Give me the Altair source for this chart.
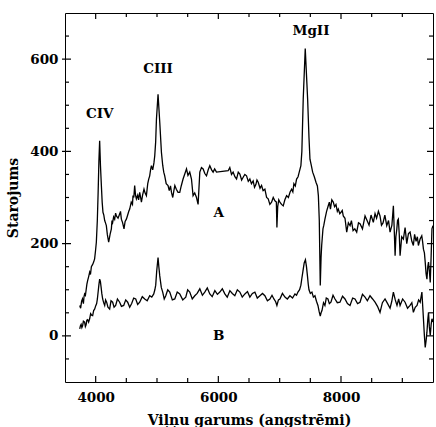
import altair as alt
import pandas as pd

# Spectrum A (upper curve): wavelength (angstrom) and flux
wl_A = [3740, 3755, 3771, 3785, 3800, 3810, 3820, 3833, 3845, 3857,
        3869, 3885, 3902, 3915, 3930, 3951, 3967, 3983, 3998, 4011,
        4027, 4040, 4053, 4065, 4078, 4093, 4106, 4119, 4133, 4147,
        4160, 4174, 4190, 4212, 4235, 4256, 4266, 4277, 4293, 4310,
        4325, 4338, 4365, 4391, 4405, 4419, 4440, 4462, 4480, 4501,
        4522, 4540, 4555, 4580, 4600, 4609, 4622, 4636, 4650, 4664,
        4685, 4700, 4718, 4733, 4746, 4765, 4788, 4805, 4827, 4849,
        4865, 4881, 4895, 4909, 4930, 4950, 4963, 4978, 4991, 5017,
        5045, 5072, 5093, 5110, 5126, 5150, 5180, 5200, 5220, 5236,
        5257, 5275, 5291, 5315, 5343, 5371, 5395, 5425, 5450, 5481,
        5505, 5534, 5562, 5588, 5615, 5644, 5670, 5698, 5725, 5752,
        5780, 5807, 5835, 5861, 5890, 5915, 5940, 5970, 6160, 6187,
        6215, 6241, 6270, 6297, 6325, 6351, 6380, 6405, 6432, 6460,
        6488, 6514, 6540, 6568, 6590, 6612, 6630, 6650, 6680, 6705,
        6730, 6759, 6787, 6813, 6840, 6868, 6895, 6922, 6946, 6955,
        6968, 6985, 7004, 7030, 7058, 7085, 7113, 7142, 7170, 7195,
        7215, 7232, 7255, 7276, 7300, 7319, 7346, 7362, 7384, 7417,
        7456, 7478, 7494, 7515, 7538, 7565, 7592, 7615, 7631, 7646,
        7662, 7675, 7685, 7706, 7720, 7738, 7765, 7792, 7810, 7828,
        7850, 7874, 7895, 7918, 7940, 7956, 7980, 8000, 8020, 8037,
        8065, 8093, 8120, 8148, 8170, 8197, 8225, 8256, 8285, 8310,
        8350, 8392, 8425, 8457, 8490, 8527, 8555, 8580, 8610, 8636,
        8660, 8685, 8715, 8746, 8775, 8800, 8830, 8854, 8868, 8882,
        8895, 8909, 8922, 8935, 8950, 8963, 8990, 9017, 9045, 9072,
        9100, 9126, 9155, 9180, 9200, 9224, 9245, 9262, 9290, 9317,
        9330, 9344, 9360, 9373, 9387, 9401, 9415, 9427, 9441, 9455,
        9470, 9483, 9500]
flux_A = [66, 60, 75, 80, 70, 85, 91, 88, 100, 112,
          120, 128, 138, 133, 150, 155, 160, 167, 185, 203,
          250, 310, 380, 423, 370, 326, 290, 268, 262, 250,
          245, 239, 220, 203, 220, 232, 250, 246, 258, 253,
          266, 260, 255, 264, 270, 253, 245, 232, 248, 253,
          262, 270, 275, 290, 285, 304, 300, 326, 305, 297,
          305, 295, 311, 300, 290, 305, 318, 310, 304, 330,
          340, 347, 360, 369, 360, 375, 390, 420, 470, 524,
          463, 398, 370, 355, 347, 330, 326, 315, 325, 311,
          300, 315, 326, 318, 311, 311, 325, 340, 350, 362,
          348, 355, 340, 304, 310, 300, 285, 355, 365, 362,
          352, 347, 360, 369, 360, 355, 362, 355, 358, 365,
          350, 355, 345, 340, 355, 351, 338, 344, 350, 347,
          335, 340, 330, 336, 322, 328, 338, 333, 320, 326,
          315, 318, 300, 297, 285, 290, 300, 293, 290, 235,
          280, 295, 290, 285, 282, 295, 304, 300, 312, 318,
          312, 330, 325, 340, 345, 355, 369, 400, 513, 623,
          513, 430, 383, 370, 355, 345, 333, 325, 304, 250,
          109, 170, 196, 232, 240, 253, 270, 282, 290, 275,
          295, 290, 280, 285, 270, 275, 265, 268, 272, 260,
          255, 225, 245, 239, 250, 228, 232, 225, 245, 243,
          232, 260, 250, 240, 262, 246, 265, 255, 270, 260,
          240, 245, 262, 239, 250, 225, 240, 282, 230, 174,
          215, 230, 250, 253, 220, 174, 215, 210, 235, 200,
          222, 225, 205, 196, 220, 205, 215, 196, 210, 217,
          205, 188, 180, 160, 135, 123, 150, 160, 140, 116,
          175, 232, 239]

# Spectrum B (lower curve)
wl_B = [3740, 3752, 3763, 3775, 3787, 3800, 3820, 3832, 3844, 3856,
        3869, 3885, 3902, 3918, 3934, 3951, 3967, 3983, 4000, 4016,
        4028, 4040, 4052, 4065, 4077, 4089, 4100, 4114, 4130, 4147,
        4162, 4179, 4200, 4228, 4250, 4277, 4300, 4326, 4355, 4391,
        4420, 4457, 4490, 4522, 4555, 4587, 4620, 4653, 4685, 4718,
        4760, 4800, 4840, 4881, 4915, 4947, 4965, 4979, 4995, 5017,
        5030, 5045, 5070, 5093, 5118, 5143, 5175, 5208, 5250, 5290,
        5330, 5371, 5420, 5469, 5500, 5534, 5575, 5616, 5655, 5698,
        5740, 5779, 5820, 5861, 5900, 5943, 5985, 6024, 6065, 6106,
        6145, 6188, 6228, 6269, 6310, 6351, 6390, 6433, 6475, 6514,
        6555, 6596, 6635, 6678, 6720, 6759, 6800, 6841, 6875, 6906,
        6935, 6955, 6980, 7004, 7045, 7086, 7125, 7167, 7210, 7249,
        7275, 7298, 7325, 7346, 7362, 7379, 7400, 7420, 7437, 7453,
        7466, 7478, 7500, 7526, 7550, 7575, 7600, 7624, 7645, 7662,
        7675, 7690, 7715, 7738, 7760, 7787, 7810, 7836, 7870, 7902,
        7940, 7983, 8025, 8065, 8105, 8147, 8190, 8228, 8270, 8310,
        8350, 8392, 8430, 8473, 8515, 8555, 8595, 8636, 8675, 8718,
        8760, 8800, 8828, 8854, 8885, 8913, 8940, 8963, 9005, 9045,
        9085, 9126, 9155, 9180, 9210, 9240, 9265, 9291, 9319, 9344,
        9360, 9373, 9388, 9401, 9415, 9427, 9440, 9455, 9470, 9483,
        9500]
flux_B = [15, 22, 25, 18, 22, 32, 30, 20, 24, 34,
          35, 30, 37, 48, 45, 44, 55, 58, 65, 70,
          80, 95, 110, 123, 118, 105, 92, 80, 72, 66,
          78, 73, 62, 58, 76, 73, 62, 66, 80, 73,
          64, 66, 78, 73, 62, 70, 82, 80, 68, 73,
          85, 80, 76, 87, 84, 91, 100, 110, 140, 170,
          150, 130, 105, 95, 80, 87, 100, 95, 78, 80,
          95, 91, 78, 84, 100, 95, 80, 87, 92, 102,
          88, 95, 104, 91, 85, 98, 90, 95, 102, 91,
          84, 98, 92, 87, 100, 95, 84, 91, 96, 84,
          92, 95, 82, 87, 92, 87, 76, 80, 88, 80,
          74, 66, 78, 80, 92, 84, 80, 87, 82, 91,
          88, 95, 100, 110, 125, 140, 158, 165, 150, 130,
          112, 100, 92, 95, 84, 87, 75, 66, 52, 43,
          50, 55, 72, 66, 82, 80, 70, 73, 88, 80,
          72, 73, 86, 80, 70, 66, 82, 80, 70, 73,
          90, 84, 76, 87, 80, 73, 64, 51, 72, 80,
          70, 60, 75, 95, 78, 66, 80, 66, 80, 73,
          60, 66, 72, 51, 62, 66, 78, 73, 95, 37,
          0, -25, -10, 8, 35, 51, 20, 1, 25, 37,
          30]

# Tick positions
x_major = [4000, 6000, 8000]
x_minor = [4500, 5000, 5500, 6500, 7000, 7500, 8500, 9000]
y_major = [0, 200, 400, 600]
y_minor = [-50, 50, 100, 150, 250, 300, 350, 450, 500, 550, 650]

# Annotations
ann_text = ["CIV", "CIII", "MgII", "A", "B"]
ann_x = [4065, 5017, 7510, 6008, 6008]
ann_y = [481, 578, 661, 266, 0]

W, H = 368, 369
FONT = "DejaVu Serif"
xs = alt.Scale(domain=[3500, 9500], nice=False, zero=False)
ys = alt.Scale(domain=[-100, 700], nice=False, zero=False)

xaxis = alt.Axis(values=x_major, format="d", title="Viļņu garums (angstrēmi)",
                 ticks=False, domain=False, grid=False, labelPadding=8, titlePadding=10)
yaxis = alt.Axis(values=y_major, format="d", title="Starojums",
                 ticks=False, domain=False, grid=False, labelPadding=7, titlePadding=9)

df = pd.DataFrame({
    "wl": wl_A + wl_B,
    "flux": flux_A + flux_B,
    "series": ["A"] * len(wl_A) + ["B"] * len(wl_B),
})

lines = alt.Chart(df).mark_line(color="black", strokeWidth=1.3).encode(
    x=alt.X("wl:Q", scale=xs, axis=xaxis),
    y=alt.Y("flux:Q", scale=ys, axis=yaxis),
    detail="series:N",
)

def xticks(vals, length):
    d = pd.DataFrame({"v": vals})
    bottom = alt.Chart(d).mark_rule(color="black", strokeWidth=1.2).encode(
        x=alt.X("v:Q", scale=xs, axis=xaxis), y=alt.value(H), y2=alt.value(H - length))
    top = alt.Chart(d).mark_rule(color="black", strokeWidth=1.2).encode(
        x=alt.X("v:Q", scale=xs, axis=xaxis), y=alt.value(0), y2=alt.value(length))
    return [bottom, top]

def yticks(vals, length, out=0):
    d = pd.DataFrame({"v": vals})
    left = alt.Chart(d).mark_rule(color="black", strokeWidth=1.2).encode(
        y=alt.Y("v:Q", scale=ys, axis=yaxis), x=alt.value(-out), x2=alt.value(length))
    right = alt.Chart(d).mark_rule(color="black", strokeWidth=1.2).encode(
        y=alt.Y("v:Q", scale=ys, axis=yaxis), x=alt.value(W), x2=alt.value(W - length))
    return [left, right]

ann = alt.Chart(pd.DataFrame({"t": ann_text, "x": ann_x, "y": ann_y})).mark_text(
    font=FONT, fontWeight="bold", fontSize=13.5, color="black"
).encode(
    x=alt.X("x:Q", scale=xs, axis=xaxis),
    y=alt.Y("y:Q", scale=ys, axis=yaxis),
    text="t:N",
)

layers = [lines] + xticks(x_major, 6) + xticks(x_minor, 4) + \
    yticks(y_major, 6, 3) + yticks(y_minor, 4) + [ann]

chart = alt.layer(*layers).properties(
    width=W, height=H,
    background="white",
    autosize=alt.AutoSizeParams(type="none"),
    padding={"left": 65, "top": 13, "right": 3, "bottom": 45},
).configure_view(
    stroke="black", strokeWidth=1
).configure_axis(
    labelFont=FONT, labelFontWeight="bold", labelFontSize=13.5, labelColor="black",
    titleFont=FONT, titleFontWeight="bold", titleFontSize=14, titleColor="black",
)

chart.save("out.html", embed_options={"renderer": "svg", "actions": False})
